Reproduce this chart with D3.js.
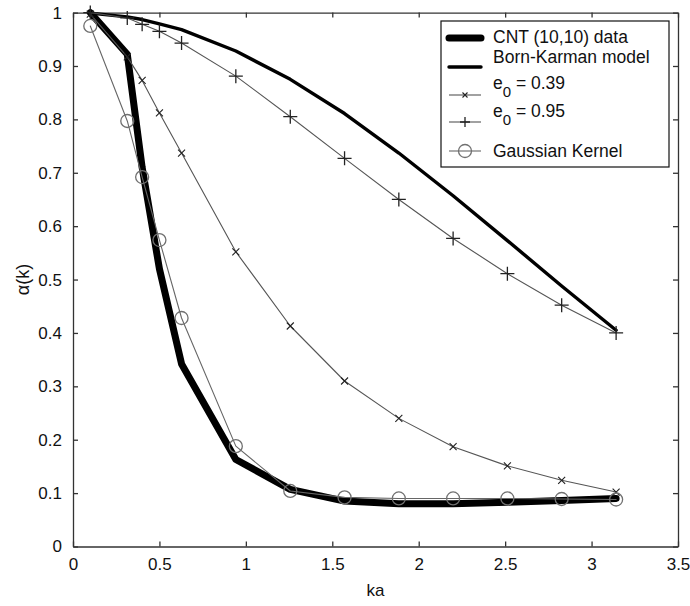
<!DOCTYPE html>
<html>
<head>
<meta charset="utf-8">
<script src="https://cdn.jsdelivr.net/npm/d3@7"></script>
<style>
  body { margin: 0; background: #fff; }
  svg text { font-family: Arial, "Liberation Sans", Helvetica, sans-serif; fill: #111; }
</style>
</head>
<body>
<div id="viewer"></div>
<script>
// sample points along ka
const ka = [0.1, 0.314, 0.4, 0.5, 0.628, 0.942, 1.257, 1.571, 1.885, 2.199, 2.513, 2.827, 3.142];
const cntData = [1.0, 0.922, 0.71, 0.52, 0.342, 0.163, 0.107, 0.085, 0.080, 0.080, 0.083, 0.086, 0.090];
const bornKarman = [0.999, 0.992, 0.987, 0.979, 0.968, 0.928, 0.875, 0.811, 0.737, 0.657, 0.573, 0.488, 0.405];
const e039 = [0.997, 0.917, 0.873, 0.812, 0.737, 0.552, 0.413, 0.310, 0.240, 0.187, 0.151, 0.124, 0.102];
const e095 = [1.0, 0.99, 0.978, 0.965, 0.943, 0.881, 0.805, 0.727, 0.650, 0.577, 0.511, 0.452, 0.400];
const gaussian = [0.975, 0.797, 0.692, 0.574, 0.428, 0.188, 0.104, 0.092, 0.090, 0.090, 0.090, 0.089, 0.088];

const xTicks = [0, 0.5, 1, 1.5, 2, 2.5, 3, 3.5];
const yTicks = [0, 0.1, 0.2, 0.3, 0.4, 0.5, 0.6, 0.7, 0.8, 0.9, 1];

const width = 690, height = 606;
const plotLeft = 73, plotRight = 678, plotTop = 12.6, plotBottom = 546.5;

const svg = d3.select('#viewer').append('svg')
    .attr('width', width)
    .attr('height', height);

const xScale = d3.scaleLinear().domain([0, 3.5]).range([plotLeft, plotRight]);
const yScale = d3.scaleLinear().domain([0, 1]).range([plotBottom, plotTop]);

const tickFmt = d => d3.format('')(d);

// axes box with inward ticks on all four sides
svg.append('g').attr('class', 'x axis')
    .attr('transform', `translate(0,${plotBottom})`)
    .call(d3.axisBottom(xScale).tickValues(xTicks).tickSizeInner(-5).tickSizeOuter(0).tickPadding(11).tickFormat(tickFmt));
svg.append('g').attr('class', 'x axis top')
    .attr('transform', `translate(0,${plotTop})`)
    .call(d3.axisTop(xScale).tickValues(xTicks).tickSizeInner(-5).tickSizeOuter(0).tickFormat(''));
svg.append('g').attr('class', 'y axis')
    .attr('transform', `translate(${plotLeft},0)`)
    .call(d3.axisLeft(yScale).tickValues(yTicks).tickSizeInner(-5).tickSizeOuter(0).tickPadding(11).tickFormat(tickFmt));
svg.append('g').attr('class', 'y axis right')
    .attr('transform', `translate(${plotRight},0)`)
    .call(d3.axisRight(yScale).tickValues(yTicks).tickSizeInner(-5).tickSizeOuter(0).tickFormat(''));

svg.selectAll('.axis path').attr('stroke', '#333').attr('stroke-width', 1.3);
svg.selectAll('.axis line').attr('stroke', '#333').attr('stroke-width', 1.3);
svg.selectAll('.axis text').attr('font-size', 17).attr('fill', '#111')
    .attr('font-family', 'Arial, "Liberation Sans", sans-serif');

// axis labels
svg.append('text')
    .attr('x', (plotLeft + plotRight) / 2).attr('y', 596)
    .attr('text-anchor', 'middle').attr('font-size', 17)
    .text('ka');
svg.append('text')
    .attr('transform', `translate(29,${(plotTop + plotBottom) / 2}) rotate(-90)`)
    .attr('text-anchor', 'middle').attr('font-size', 18)
    .text('α(k)');

const series = [
    { name: 'CNT (10,10) data', values: cntData, stroke: '#000', width: 7, marker: null },
    { name: 'Born-Karman model', values: bornKarman, stroke: '#000', width: 3.4, marker: null },
    { name: 'e0 = 0.39', values: e039, stroke: '#555', width: 1.1, marker: 'x' },
    { name: 'e0 = 0.95', values: e095, stroke: '#555', width: 1.1, marker: 'plus' },
    { name: 'Gaussian Kernel', values: gaussian, stroke: '#666', width: 1.1, marker: 'circle' }
];

const line = d3.line().x(d => xScale(d[0])).y(d => yScale(d[1]));
const plot = svg.append('g').attr('class', 'series');

function drawMarker(g, type, cx, cy, size) {
    if (type === 'x') {
        const s = size / 2;
        g.append('path')
            .attr('d', `M${cx - s},${cy - s}L${cx + s},${cy + s}M${cx - s},${cy + s}L${cx + s},${cy - s}`)
            .attr('stroke', '#222').attr('stroke-width', 1.1).attr('fill', 'none');
    } else if (type === 'plus') {
        const s = size / 2;
        g.append('path')
            .attr('d', `M${cx - s},${cy}L${cx + s},${cy}M${cx},${cy - s}L${cx},${cy + s}`)
            .attr('stroke', '#222').attr('stroke-width', 1.3).attr('fill', 'none');
    } else if (type === 'circle') {
        g.append('circle')
            .attr('cx', cx).attr('cy', cy).attr('r', size / 2)
            .attr('stroke', '#707070').attr('stroke-width', 1.3).attr('fill', 'none');
    }
}

const markerSize = { x: 7, plus: 14, circle: 13 };

series.forEach(s => {
    const pts = ka.map((k, i) => [k, s.values[i]]);
    plot.append('path')
        .datum(pts)
        .attr('d', line)
        .attr('fill', 'none')
        .attr('stroke', s.stroke)
        .attr('stroke-width', s.width)
        .attr('stroke-linejoin', 'round')
        .attr('stroke-linecap', 'round');
    if (s.marker) {
        pts.forEach(p => drawMarker(plot, s.marker, xScale(p[0]), yScale(p[1]), markerSize[s.marker]));
    }
});

// legend
const legend = svg.append('g').attr('class', 'legend');
legend.append('rect')
    .attr('x', 441).attr('y', 21).attr('width', 228).attr('height', 146)
    .attr('fill', '#fff').attr('stroke', '#111').attr('stroke-width', 1.2);

const legendRows = [
    { lineY: 38, textY: 43, sub: false },
    { lineY: 67, textY: 63, sub: false },
    { lineY: 95, textY: 89, sub: true },
    { lineY: 122, textY: 117, sub: true },
    { lineY: 151, textY: 157, sub: false }
];
const legendMarkerSize = { x: 5, plus: 10, circle: 13 };

series.forEach((s, i) => {
    const row = legendRows[i];
    legend.append('line')
        .attr('x1', 449).attr('x2', 481)
        .attr('y1', row.lineY).attr('y2', row.lineY)
        .attr('stroke', s.stroke).attr('stroke-width', s.width)
        .attr('stroke-linecap', s.width > 2 ? 'round' : 'butt');
    if (s.marker) drawMarker(legend, s.marker, 465, row.lineY, legendMarkerSize[s.marker]);
    const t = legend.append('text')
        .attr('x', 493).attr('y', row.textY)
        .attr('font-size', 17.5);
    if (row.sub) {
        t.append('tspan').text('e');
        t.append('tspan').attr('dy', 8).attr('font-size', 15).text('0');
        t.append('tspan').attr('dy', -8).text(' ' + s.name.slice(3));
    } else {
        t.text(s.name);
    }
});
</script>
</body>
</html>
